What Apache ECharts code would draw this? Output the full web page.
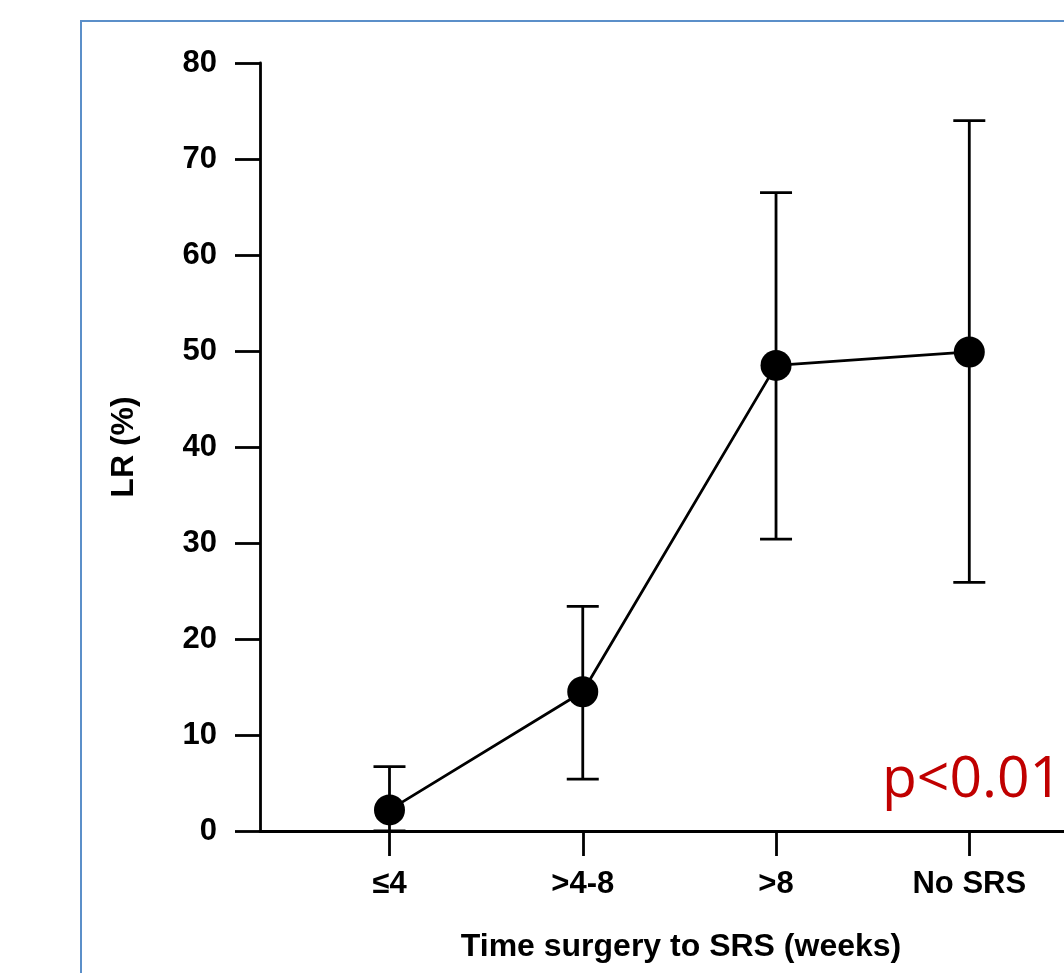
<!DOCTYPE html>
<html>
<head>
<meta charset="utf-8">
<title>LR by time surgery to SRS</title>
<script src="https://cdn.jsdelivr.net/npm/echarts@6/dist/echarts.min.js"></script>
<style>
    html, body { margin: 0; padding: 0; background: #fff; }
    #chart { width: 1064px; height: 973px; }
</style>
</head>
<body>
<div id="chart"></div>
<script>
// data
var categories = ['≤4', '>4-8', '>8', 'No SRS'];
var lrValues = [2.2, 14.5, 48.5, 49.9];
var ciLower = [0, 5.4, 30.4, 25.9];
var ciUpper = [6.7, 23.4, 66.5, 74.0];
var yTicks = [0, 10, 20, 30, 40, 50, 60, 70, 80];

var chart = echarts.init(document.getElementById('chart'));

var lineData = lrValues.map(function (v, i) { return [i, v]; });
var errData = ciLower.map(function (lo, i) { return [i, lo, ciUpper[i]]; });

var boldFont = {
    fontFamily: 'Liberation Sans',
    fontWeight: 'bold',
    fontSize: 31,
    color: '#000'
};
var nameFont = Object.assign({}, boldFont, { fontSize: 32 });
var stroke = { stroke: '#000', lineWidth: 2.8 };

var option = {
    animation: false,
    backgroundColor: '#fff',
    grid: { left: 260, top: 63, bottom: 142, right: 0 },
    xAxis: {
        type: 'value',
        // category slots sit at 0..3, the axis runs off the right edge
        min: -0.67,
        max: 3.49,
        name: 'Time surgery to SRS (weeks)',
        nameLocation: 'middle',
        nameGap: 100,
        nameTextStyle: Object.assign({ padding: [0, 0, 0, 38] }, nameFont),
        splitLine: { show: false },
        axisLine: { onZero: false, lineStyle: { color: '#000', width: 2.8 } },
        axisTick: { customValues: [0, 1, 2, 3], length: 25, lineStyle: { color: '#000', width: 2.8 } },
        axisLabel: Object.assign({
            customValues: [0, 1, 2, 3],
            margin: 38,
            formatter: function (v) { return categories[v]; }
        }, boldFont)
    },
    yAxis: {
        type: 'value',
        min: yTicks[0],
        max: yTicks[yTicks.length - 1],
        interval: 10,
        name: 'LR (%)',
        nameLocation: 'middle',
        nameGap: 120,
        nameTextStyle: nameFont,
        splitLine: { show: false },
        axisLine: { onZero: false, lineStyle: { color: '#000', width: 2.8 } },
        axisTick: { length: 25, lineStyle: { color: '#000', width: 2.8 } },
        axisLabel: Object.assign({ margin: 43 }, boldFont)
    },
    series: [
        {
            // error bars
            type: 'custom',
            z: 1,
            data: errData,
            encode: { x: 0, y: [1, 2] },
            renderItem: function (params, api) {
                var x = api.value(0);
                var lo = api.coord([x, api.value(1)]);
                var hi = api.coord([x, api.value(2)]);
                var half = 16;
                return {
                    type: 'group',
                    children: [
                        { type: 'line', shape: { x1: lo[0], y1: lo[1], x2: hi[0], y2: hi[1] }, style: stroke },
                        { type: 'line', shape: { x1: hi[0] - half, y1: hi[1], x2: hi[0] + half, y2: hi[1] }, style: stroke },
                        { type: 'line', shape: { x1: lo[0] - half, y1: lo[1], x2: lo[0] + half, y2: lo[1] }, style: stroke }
                    ]
                };
            }
        },
        {
            type: 'line',
            z: 2,
            data: lineData,
            symbol: 'circle',
            symbolSize: 31,
            lineStyle: { color: '#000', width: 2.8 },
            itemStyle: { color: '#000' }
        }
    ],
    graphic: [
        {
            type: 'rect',
            shape: { x: 81, y: 21, width: 1200, height: 1200 },
            style: { fill: 'none', stroke: '#5B8FC9', lineWidth: 2 },
            z: -1
        },
        {
            type: 'text',
            x: 882,
            y: 752,
            style: {
                text: 'p<0.01',
                fill: '#C00000',
                font: '57px "Open Sans"'
            }
        }
    ]
};

chart.setOption(option);
</script>
</body>
</html>
